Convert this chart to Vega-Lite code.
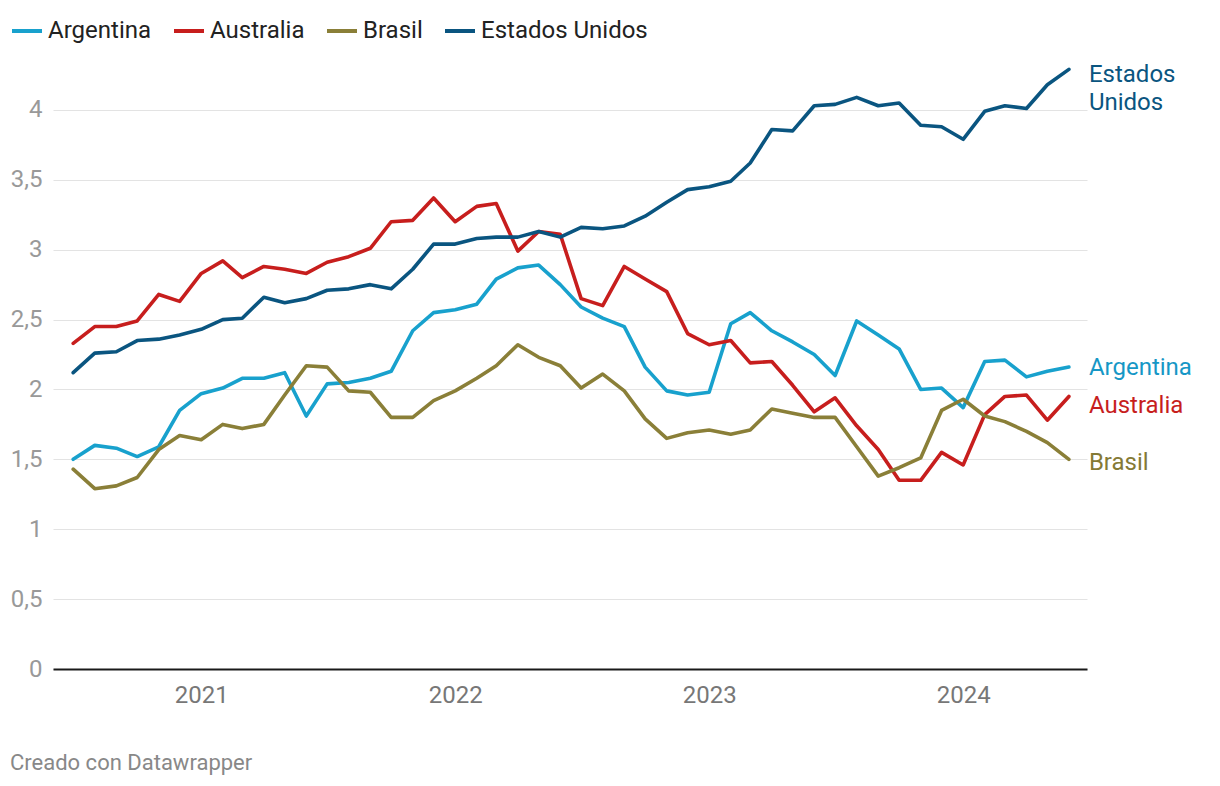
{
  "$schema": "https://vega.github.io/schema/vega-lite/v6.json",
  "width": 1034,
  "height": 601,
  "autosize": "none",
  "padding": {"left": 53, "top": 68, "right": 133, "bottom": 117},
  "background": "#ffffff",
  "config": {
    "font": "Roboto",
    "view": {"stroke": null},
    "locale": {"number": {"decimal": ",", "thousands": ".", "grouping": [3], "currency": ["", " €"]}}
  },
  "title": {
    "text": "Creado con Datawrapper",
    "orient": "bottom",
    "anchor": "start",
    "frame": "bounds",
    "font": "Roboto",
    "fontSize": 22,
    "fontWeight": "normal",
    "color": "#888888",
    "offset": 46
  },
  "data": {
    "values": [
      {"fecha": "2020-07-01", "pais": "Argentina", "valor": 1.50},
      {"fecha": "2020-08-01", "pais": "Argentina", "valor": 1.60},
      {"fecha": "2020-09-01", "pais": "Argentina", "valor": 1.58},
      {"fecha": "2020-10-01", "pais": "Argentina", "valor": 1.52},
      {"fecha": "2020-11-01", "pais": "Argentina", "valor": 1.59},
      {"fecha": "2020-12-01", "pais": "Argentina", "valor": 1.85},
      {"fecha": "2021-01-01", "pais": "Argentina", "valor": 1.97},
      {"fecha": "2021-02-01", "pais": "Argentina", "valor": 2.01},
      {"fecha": "2021-03-01", "pais": "Argentina", "valor": 2.08},
      {"fecha": "2021-04-01", "pais": "Argentina", "valor": 2.08},
      {"fecha": "2021-05-01", "pais": "Argentina", "valor": 2.12},
      {"fecha": "2021-06-01", "pais": "Argentina", "valor": 1.81},
      {"fecha": "2021-07-01", "pais": "Argentina", "valor": 2.04},
      {"fecha": "2021-08-01", "pais": "Argentina", "valor": 2.05},
      {"fecha": "2021-09-01", "pais": "Argentina", "valor": 2.08},
      {"fecha": "2021-10-01", "pais": "Argentina", "valor": 2.13},
      {"fecha": "2021-11-01", "pais": "Argentina", "valor": 2.42},
      {"fecha": "2021-12-01", "pais": "Argentina", "valor": 2.55},
      {"fecha": "2022-01-01", "pais": "Argentina", "valor": 2.57},
      {"fecha": "2022-02-01", "pais": "Argentina", "valor": 2.61},
      {"fecha": "2022-03-01", "pais": "Argentina", "valor": 2.79},
      {"fecha": "2022-04-01", "pais": "Argentina", "valor": 2.87},
      {"fecha": "2022-05-01", "pais": "Argentina", "valor": 2.89},
      {"fecha": "2022-06-01", "pais": "Argentina", "valor": 2.75},
      {"fecha": "2022-07-01", "pais": "Argentina", "valor": 2.59},
      {"fecha": "2022-08-01", "pais": "Argentina", "valor": 2.51},
      {"fecha": "2022-09-01", "pais": "Argentina", "valor": 2.45},
      {"fecha": "2022-10-01", "pais": "Argentina", "valor": 2.16},
      {"fecha": "2022-11-01", "pais": "Argentina", "valor": 1.99},
      {"fecha": "2022-12-01", "pais": "Argentina", "valor": 1.96},
      {"fecha": "2023-01-01", "pais": "Argentina", "valor": 1.98},
      {"fecha": "2023-02-01", "pais": "Argentina", "valor": 2.47},
      {"fecha": "2023-03-01", "pais": "Argentina", "valor": 2.55},
      {"fecha": "2023-04-01", "pais": "Argentina", "valor": 2.42},
      {"fecha": "2023-05-01", "pais": "Argentina", "valor": 2.34},
      {"fecha": "2023-06-01", "pais": "Argentina", "valor": 2.25},
      {"fecha": "2023-07-01", "pais": "Argentina", "valor": 2.10},
      {"fecha": "2023-08-01", "pais": "Argentina", "valor": 2.49},
      {"fecha": "2023-09-01", "pais": "Argentina", "valor": 2.39},
      {"fecha": "2023-10-01", "pais": "Argentina", "valor": 2.29},
      {"fecha": "2023-11-01", "pais": "Argentina", "valor": 2.00},
      {"fecha": "2023-12-01", "pais": "Argentina", "valor": 2.01},
      {"fecha": "2024-01-01", "pais": "Argentina", "valor": 1.87},
      {"fecha": "2024-02-01", "pais": "Argentina", "valor": 2.20},
      {"fecha": "2024-03-01", "pais": "Argentina", "valor": 2.21},
      {"fecha": "2024-04-01", "pais": "Argentina", "valor": 2.09},
      {"fecha": "2024-05-01", "pais": "Argentina", "valor": 2.13},
      {"fecha": "2024-06-01", "pais": "Argentina", "valor": 2.16},
      {"fecha": "2020-07-01", "pais": "Australia", "valor": 2.33},
      {"fecha": "2020-08-01", "pais": "Australia", "valor": 2.45},
      {"fecha": "2020-09-01", "pais": "Australia", "valor": 2.45},
      {"fecha": "2020-10-01", "pais": "Australia", "valor": 2.49},
      {"fecha": "2020-11-01", "pais": "Australia", "valor": 2.68},
      {"fecha": "2020-12-01", "pais": "Australia", "valor": 2.63},
      {"fecha": "2021-01-01", "pais": "Australia", "valor": 2.83},
      {"fecha": "2021-02-01", "pais": "Australia", "valor": 2.92},
      {"fecha": "2021-03-01", "pais": "Australia", "valor": 2.80},
      {"fecha": "2021-04-01", "pais": "Australia", "valor": 2.88},
      {"fecha": "2021-05-01", "pais": "Australia", "valor": 2.86},
      {"fecha": "2021-06-01", "pais": "Australia", "valor": 2.83},
      {"fecha": "2021-07-01", "pais": "Australia", "valor": 2.91},
      {"fecha": "2021-08-01", "pais": "Australia", "valor": 2.95},
      {"fecha": "2021-09-01", "pais": "Australia", "valor": 3.01},
      {"fecha": "2021-10-01", "pais": "Australia", "valor": 3.20},
      {"fecha": "2021-11-01", "pais": "Australia", "valor": 3.21},
      {"fecha": "2021-12-01", "pais": "Australia", "valor": 3.37},
      {"fecha": "2022-01-01", "pais": "Australia", "valor": 3.20},
      {"fecha": "2022-02-01", "pais": "Australia", "valor": 3.31},
      {"fecha": "2022-03-01", "pais": "Australia", "valor": 3.33},
      {"fecha": "2022-04-01", "pais": "Australia", "valor": 2.99},
      {"fecha": "2022-05-01", "pais": "Australia", "valor": 3.13},
      {"fecha": "2022-06-01", "pais": "Australia", "valor": 3.11},
      {"fecha": "2022-07-01", "pais": "Australia", "valor": 2.65},
      {"fecha": "2022-08-01", "pais": "Australia", "valor": 2.60},
      {"fecha": "2022-09-01", "pais": "Australia", "valor": 2.88},
      {"fecha": "2022-10-01", "pais": "Australia", "valor": 2.79},
      {"fecha": "2022-11-01", "pais": "Australia", "valor": 2.70},
      {"fecha": "2022-12-01", "pais": "Australia", "valor": 2.40},
      {"fecha": "2023-01-01", "pais": "Australia", "valor": 2.32},
      {"fecha": "2023-02-01", "pais": "Australia", "valor": 2.35},
      {"fecha": "2023-03-01", "pais": "Australia", "valor": 2.19},
      {"fecha": "2023-04-01", "pais": "Australia", "valor": 2.20},
      {"fecha": "2023-05-01", "pais": "Australia", "valor": 2.03},
      {"fecha": "2023-06-01", "pais": "Australia", "valor": 1.84},
      {"fecha": "2023-07-01", "pais": "Australia", "valor": 1.94},
      {"fecha": "2023-08-01", "pais": "Australia", "valor": 1.74},
      {"fecha": "2023-09-01", "pais": "Australia", "valor": 1.57},
      {"fecha": "2023-10-01", "pais": "Australia", "valor": 1.35},
      {"fecha": "2023-11-01", "pais": "Australia", "valor": 1.35},
      {"fecha": "2023-12-01", "pais": "Australia", "valor": 1.55},
      {"fecha": "2024-01-01", "pais": "Australia", "valor": 1.46},
      {"fecha": "2024-02-01", "pais": "Australia", "valor": 1.82},
      {"fecha": "2024-03-01", "pais": "Australia", "valor": 1.95},
      {"fecha": "2024-04-01", "pais": "Australia", "valor": 1.96},
      {"fecha": "2024-05-01", "pais": "Australia", "valor": 1.78},
      {"fecha": "2024-06-01", "pais": "Australia", "valor": 1.95},
      {"fecha": "2020-07-01", "pais": "Brasil", "valor": 1.43},
      {"fecha": "2020-08-01", "pais": "Brasil", "valor": 1.29},
      {"fecha": "2020-09-01", "pais": "Brasil", "valor": 1.31},
      {"fecha": "2020-10-01", "pais": "Brasil", "valor": 1.37},
      {"fecha": "2020-11-01", "pais": "Brasil", "valor": 1.57},
      {"fecha": "2020-12-01", "pais": "Brasil", "valor": 1.67},
      {"fecha": "2021-01-01", "pais": "Brasil", "valor": 1.64},
      {"fecha": "2021-02-01", "pais": "Brasil", "valor": 1.75},
      {"fecha": "2021-03-01", "pais": "Brasil", "valor": 1.72},
      {"fecha": "2021-04-01", "pais": "Brasil", "valor": 1.75},
      {"fecha": "2021-05-01", "pais": "Brasil", "valor": 1.96},
      {"fecha": "2021-06-01", "pais": "Brasil", "valor": 2.17},
      {"fecha": "2021-07-01", "pais": "Brasil", "valor": 2.16},
      {"fecha": "2021-08-01", "pais": "Brasil", "valor": 1.99},
      {"fecha": "2021-09-01", "pais": "Brasil", "valor": 1.98},
      {"fecha": "2021-10-01", "pais": "Brasil", "valor": 1.80},
      {"fecha": "2021-11-01", "pais": "Brasil", "valor": 1.80},
      {"fecha": "2021-12-01", "pais": "Brasil", "valor": 1.92},
      {"fecha": "2022-01-01", "pais": "Brasil", "valor": 1.99},
      {"fecha": "2022-02-01", "pais": "Brasil", "valor": 2.08},
      {"fecha": "2022-03-01", "pais": "Brasil", "valor": 2.17},
      {"fecha": "2022-04-01", "pais": "Brasil", "valor": 2.32},
      {"fecha": "2022-05-01", "pais": "Brasil", "valor": 2.23},
      {"fecha": "2022-06-01", "pais": "Brasil", "valor": 2.17},
      {"fecha": "2022-07-01", "pais": "Brasil", "valor": 2.01},
      {"fecha": "2022-08-01", "pais": "Brasil", "valor": 2.11},
      {"fecha": "2022-09-01", "pais": "Brasil", "valor": 1.99},
      {"fecha": "2022-10-01", "pais": "Brasil", "valor": 1.79},
      {"fecha": "2022-11-01", "pais": "Brasil", "valor": 1.65},
      {"fecha": "2022-12-01", "pais": "Brasil", "valor": 1.69},
      {"fecha": "2023-01-01", "pais": "Brasil", "valor": 1.71},
      {"fecha": "2023-02-01", "pais": "Brasil", "valor": 1.68},
      {"fecha": "2023-03-01", "pais": "Brasil", "valor": 1.71},
      {"fecha": "2023-04-01", "pais": "Brasil", "valor": 1.86},
      {"fecha": "2023-05-01", "pais": "Brasil", "valor": 1.83},
      {"fecha": "2023-06-01", "pais": "Brasil", "valor": 1.80},
      {"fecha": "2023-07-01", "pais": "Brasil", "valor": 1.80},
      {"fecha": "2023-08-01", "pais": "Brasil", "valor": 1.59},
      {"fecha": "2023-09-01", "pais": "Brasil", "valor": 1.38},
      {"fecha": "2023-10-01", "pais": "Brasil", "valor": 1.44},
      {"fecha": "2023-11-01", "pais": "Brasil", "valor": 1.51},
      {"fecha": "2023-12-01", "pais": "Brasil", "valor": 1.85},
      {"fecha": "2024-01-01", "pais": "Brasil", "valor": 1.93},
      {"fecha": "2024-02-01", "pais": "Brasil", "valor": 1.81},
      {"fecha": "2024-03-01", "pais": "Brasil", "valor": 1.77},
      {"fecha": "2024-04-01", "pais": "Brasil", "valor": 1.70},
      {"fecha": "2024-05-01", "pais": "Brasil", "valor": 1.62},
      {"fecha": "2024-06-01", "pais": "Brasil", "valor": 1.50},
      {"fecha": "2020-07-01", "pais": "Estados Unidos", "valor": 2.12},
      {"fecha": "2020-08-01", "pais": "Estados Unidos", "valor": 2.26},
      {"fecha": "2020-09-01", "pais": "Estados Unidos", "valor": 2.27},
      {"fecha": "2020-10-01", "pais": "Estados Unidos", "valor": 2.35},
      {"fecha": "2020-11-01", "pais": "Estados Unidos", "valor": 2.36},
      {"fecha": "2020-12-01", "pais": "Estados Unidos", "valor": 2.39},
      {"fecha": "2021-01-01", "pais": "Estados Unidos", "valor": 2.43},
      {"fecha": "2021-02-01", "pais": "Estados Unidos", "valor": 2.50},
      {"fecha": "2021-03-01", "pais": "Estados Unidos", "valor": 2.51},
      {"fecha": "2021-04-01", "pais": "Estados Unidos", "valor": 2.66},
      {"fecha": "2021-05-01", "pais": "Estados Unidos", "valor": 2.62},
      {"fecha": "2021-06-01", "pais": "Estados Unidos", "valor": 2.65},
      {"fecha": "2021-07-01", "pais": "Estados Unidos", "valor": 2.71},
      {"fecha": "2021-08-01", "pais": "Estados Unidos", "valor": 2.72},
      {"fecha": "2021-09-01", "pais": "Estados Unidos", "valor": 2.75},
      {"fecha": "2021-10-01", "pais": "Estados Unidos", "valor": 2.72},
      {"fecha": "2021-11-01", "pais": "Estados Unidos", "valor": 2.86},
      {"fecha": "2021-12-01", "pais": "Estados Unidos", "valor": 3.04},
      {"fecha": "2022-01-01", "pais": "Estados Unidos", "valor": 3.04},
      {"fecha": "2022-02-01", "pais": "Estados Unidos", "valor": 3.08},
      {"fecha": "2022-03-01", "pais": "Estados Unidos", "valor": 3.09},
      {"fecha": "2022-04-01", "pais": "Estados Unidos", "valor": 3.09},
      {"fecha": "2022-05-01", "pais": "Estados Unidos", "valor": 3.13},
      {"fecha": "2022-06-01", "pais": "Estados Unidos", "valor": 3.09},
      {"fecha": "2022-07-01", "pais": "Estados Unidos", "valor": 3.16},
      {"fecha": "2022-08-01", "pais": "Estados Unidos", "valor": 3.15},
      {"fecha": "2022-09-01", "pais": "Estados Unidos", "valor": 3.17},
      {"fecha": "2022-10-01", "pais": "Estados Unidos", "valor": 3.24},
      {"fecha": "2022-11-01", "pais": "Estados Unidos", "valor": 3.34},
      {"fecha": "2022-12-01", "pais": "Estados Unidos", "valor": 3.43},
      {"fecha": "2023-01-01", "pais": "Estados Unidos", "valor": 3.45},
      {"fecha": "2023-02-01", "pais": "Estados Unidos", "valor": 3.49},
      {"fecha": "2023-03-01", "pais": "Estados Unidos", "valor": 3.62},
      {"fecha": "2023-04-01", "pais": "Estados Unidos", "valor": 3.86},
      {"fecha": "2023-05-01", "pais": "Estados Unidos", "valor": 3.85},
      {"fecha": "2023-06-01", "pais": "Estados Unidos", "valor": 4.03},
      {"fecha": "2023-07-01", "pais": "Estados Unidos", "valor": 4.04},
      {"fecha": "2023-08-01", "pais": "Estados Unidos", "valor": 4.09},
      {"fecha": "2023-09-01", "pais": "Estados Unidos", "valor": 4.03},
      {"fecha": "2023-10-01", "pais": "Estados Unidos", "valor": 4.05},
      {"fecha": "2023-11-01", "pais": "Estados Unidos", "valor": 3.89},
      {"fecha": "2023-12-01", "pais": "Estados Unidos", "valor": 3.88},
      {"fecha": "2024-01-01", "pais": "Estados Unidos", "valor": 3.79},
      {"fecha": "2024-02-01", "pais": "Estados Unidos", "valor": 3.99},
      {"fecha": "2024-03-01", "pais": "Estados Unidos", "valor": 4.03},
      {"fecha": "2024-04-01", "pais": "Estados Unidos", "valor": 4.01},
      {"fecha": "2024-05-01", "pais": "Estados Unidos", "valor": 4.18},
      {"fecha": "2024-06-01", "pais": "Estados Unidos", "valor": 4.29}
    ]
  },
  "encoding": {
    "x": {
      "field": "fecha",
      "type": "temporal",
      "scale": {"domain": ["2020-06-02", "2024-06-27"], "nice": false},
      "axis": {
        "title": null,
        "format": "%Y",
        "tickCount": {"interval": "year", "step": 1},
        "grid": false,
        "ticks": false,
        "domain": true,
        "domainColor": "#1a1a1a",
        "domainWidth": 2,
        "labelFont": "Roboto",
        "labelFontSize": 24,
        "labelColor": "#777777",
        "labelPadding": 26,
        "labelBaseline": "middle",
        "labelFlush": false
      }
    },
    "y": {
      "field": "valor",
      "type": "quantitative",
      "scale": {"domain": [0, 4.3], "nice": false, "zero": true},
      "axis": {
        "title": null,
        "values": [0, 0.5, 1, 1.5, 2, 2.5, 3, 3.5, 4],
        "format": ".1~f",
        "grid": true,
        "gridColor": "#e3e3e3",
        "gridWidth": 1,
        "ticks": false,
        "domain": false,
        "labelFont": "Roboto",
        "labelFontSize": 24,
        "labelColor": "#999999",
        "labelPadding": 11,
        "labelAlign": "right",
        "labelBaseline": "middle"
      }
    }
  },
  "layer": [
    {
      "mark": {"type": "line", "strokeWidth": 3.6, "strokeJoin": "round", "strokeCap": "round", "clip": false},
      "encoding": {
        "color": {
          "field": "pais",
          "type": "nominal",
          "scale": {
            "domain": ["Argentina", "Australia", "Brasil", "Estados Unidos"],
            "range": ["#18a1cd", "#c71e1d", "#8a7f38", "#0a5580"]
          },
          "legend": {
            "title": null,
            "orient": "none",
            "direction": "horizontal",
            "legendX": -43,
            "legendY": -54,
            "symbolType": "stroke",
            "symbolSize": 900,
            "symbolStrokeWidth": 4,
            "labelFont": "Roboto",
            "labelFontSize": 24,
            "labelColor": "#222222",
            "labelOffset": 4,
            "labelLimit": 400,
            "columnPadding": 14
          }
        }
      }
    },
    {
      "transform": [{"filter": {"field": "pais", "equal": "Argentina"}}],
      "mark": {"type": "text", "align": "left", "baseline": "middle", "dx": 20, "dy": 1, "fontSize": 24, "font": "Roboto", "color": "#1697c6"},
      "encoding": {
        "x": {"aggregate": "max", "field": "fecha", "type": "temporal"},
        "y": {"aggregate": {"argmax": "fecha"}, "field": "valor", "type": "quantitative"},
        "text": {"field": "pais", "type": "nominal"}
      }
    },
    {
      "transform": [{"filter": {"field": "pais", "equal": "Australia"}}],
      "mark": {"type": "text", "align": "left", "baseline": "middle", "dx": 20, "dy": 10, "fontSize": 24, "font": "Roboto", "color": "#c71e1d"},
      "encoding": {
        "x": {"aggregate": "max", "field": "fecha", "type": "temporal"},
        "y": {"aggregate": {"argmax": "fecha"}, "field": "valor", "type": "quantitative"},
        "text": {"field": "pais", "type": "nominal"}
      }
    },
    {
      "transform": [{"filter": {"field": "pais", "equal": "Brasil"}}],
      "mark": {"type": "text", "align": "left", "baseline": "middle", "dx": 20, "dy": 4, "fontSize": 24, "font": "Roboto", "color": "#857a35"},
      "encoding": {
        "x": {"aggregate": "max", "field": "fecha", "type": "temporal"},
        "y": {"aggregate": {"argmax": "fecha"}, "field": "valor", "type": "quantitative"},
        "text": {"field": "pais", "type": "nominal"}
      }
    },
    {
      "transform": [{"filter": {"field": "pais", "equal": "Estados Unidos"}}],
      "mark": {"type": "text", "align": "left", "baseline": "alphabetic", "dx": 20, "dy": 13, "fontSize": 24, "font": "Roboto", "lineBreak": " ", "lineHeight": 28, "color": "#0a5580"},
      "encoding": {
        "x": {"aggregate": "max", "field": "fecha", "type": "temporal"},
        "y": {"aggregate": {"argmax": "fecha"}, "field": "valor", "type": "quantitative"},
        "text": {"field": "pais", "type": "nominal"}
      }
    }
  ]
}
